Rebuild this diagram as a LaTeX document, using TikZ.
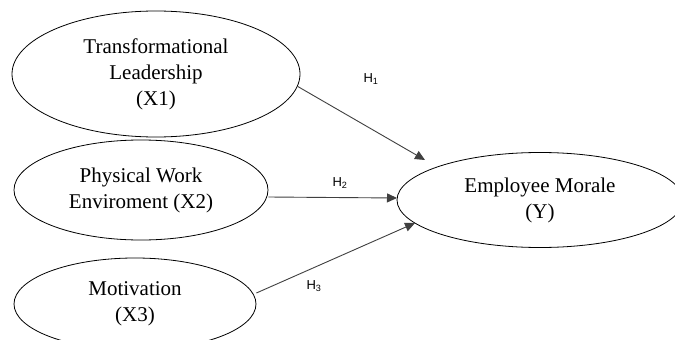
\documentclass[tikz,border=0pt]{standalone}
\usepackage{fontspec}
\setmainfont{Liberation Serif}
\newfontfamily\labfont{Liberation Sans}
\usetikzlibrary{arrows.meta,shapes.geometric}
\begin{document}
\begin{tikzpicture}[x=1pt,y=-1pt,
  var/.style={draw, ellipse, line width=0.8pt, inner sep=0pt, align=center, font=\fontsize{21}{26}\selectfont},
  path/.style={line width=0.9pt, draw=black!75, -{Triangle[length=10pt,width=9pt]}},
  hlab/.style={font=\labfont\fontsize{13}{15}\selectfont, inner sep=0pt}]
\useasboundingbox (0,0) rectangle (675,340);
\clip (0,0) rectangle (675,340);
\fill[white] (0,0) rectangle (675,340);
\node[var, minimum width=288pt, minimum height=126pt] (x1) at (156,74) {Transformational\\Leadership\\(X1)};
\node[var, minimum width=254pt, minimum height=100pt] (x2) at (141,190) {Physical Work\\Enviroment (X2)};
\node[var, minimum width=242pt, minimum height=92pt] (x3) at (135,304) {Motivation\\(X3)};
\node[var, minimum width=286pt, minimum height=95pt] (y) at (540,200) {Employee Morale\\(Y)};
\coordinate (t1) at (425,160);
\coordinate (t2) at (397,198);
\coordinate (t3) at (415,223);
\draw[path] (x1.-5.5) -- (t1);
\draw[path] (x2.east |- 0,197) -- (t2);
\draw[path] (x3.east |- 0,293) -- (t3);
\node[hlab] (h1) at (371,79) {H\textsubscript{1}};
\node[hlab] (h2) at (340,183) {H\textsubscript{2}};
\node[hlab] (h3) at (314,286) {H\textsubscript{3}};
\end{tikzpicture}
\end{document}
